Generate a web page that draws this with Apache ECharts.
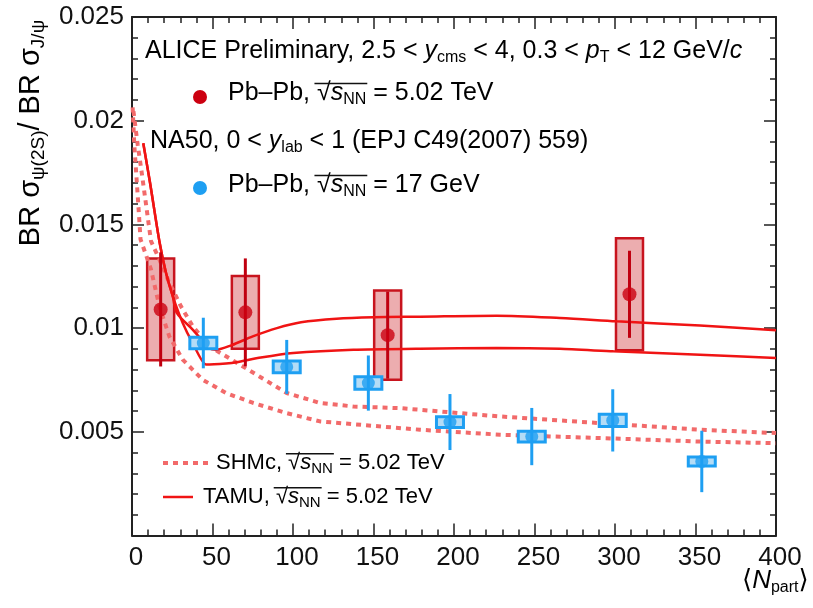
<!DOCTYPE html>
<html>
<head>
<meta charset="utf-8">
<script src="https://cdn.jsdelivr.net/npm/echarts@6/dist/echarts.min.js"></script>
<style>
  html, body { margin: 0; padding: 0; background: #fff; }
  #chart { width: 813px; height: 608px; }
</style>
</head>
<body>
<div id="chart"></div>
<script>
/**************** 数据 ****************/
// ALICE Pb-Pb 5.02 TeV
var aliceNpart = [17.8, 70.4, 158.8, 309.0];
var aliceRatio = [0.0109, 0.01076, 0.00966, 0.01163];
var aliceStat = [0.00275, 0.0026, 0.0021, 0.0021];
var aliceSyst = [0.00245, 0.00175, 0.00215, 0.0027];

// NA50 Pb-Pb 17 GeV
var na50Npart = [44.3, 96.1, 146.8, 197.5, 248.3, 298.6, 353.9];
var na50Ratio = [0.00928, 0.00813, 0.00735, 0.00547, 0.00477, 0.00555, 0.00357];
var na50Stat = [0.00122, 0.0013, 0.00133, 0.00135, 0.00138, 0.0015, 0.00148];
var na50Syst = [0.00028, 0.00028, 0.0003, 0.00026, 0.00026, 0.0003, 0.00022];

// TAMU band (solid)
var tamuHiX = [7.0, 11.2, 17.0, 21.1, 25.3, 27.8, 37.7, 48.0, 52.2, 62.0, 75.0, 90.0, 105.0, 127.0, 150.0, 179.0, 226.5, 265.8, 301.0, 352.8, 400];
var tamuHiY = [0.01891, 0.01701, 0.01419, 0.01267, 0.01154, 0.01073, 0.00993, 0.00904, 0.00896, 0.00918, 0.0096, 0.01, 0.01028, 0.01045, 0.01052, 0.01055, 0.0106, 0.01049, 0.01033, 0.01012, 0.0099];
var tamuLoX = [7.0, 11.2, 17.0, 21.1, 25.3, 31.5, 37.7, 46.0, 58.4, 65.0, 80.0, 100.2, 137.5, 178.9, 226.5, 265.8, 299.0, 352.8, 400];
var tamuLoY = [0.01891, 0.01701, 0.01419, 0.01267, 0.01154, 0.01025, 0.00928, 0.00824, 0.00829, 0.00835, 0.00858, 0.0088, 0.00896, 0.00901, 0.00904, 0.009, 0.00888, 0.00872, 0.00856];

// SHMc band (dotted)
var shmHiX = [0.9, 3.5, 5.6, 8.7, 11.8, 17.0, 23.2, 30.4, 37.7, 48.0, 58.4, 79.1, 96.1, 116.8, 137.5, 166.5, 228.6, 290.7, 352.8, 400];
var shmHiY = [0.02046, 0.01886, 0.01774, 0.01597, 0.01419, 0.01331, 0.01218, 0.01105, 0.01009, 0.00912, 0.00864, 0.00767, 0.00687, 0.00639, 0.00622, 0.00614, 0.00574, 0.00542, 0.0051, 0.00494];
var shmLoX = [0.4, 1.4, 3.5, 5.3, 11.8, 17.0, 23.2, 31.5, 43.9, 58.4, 75.3, 96.1, 116.8, 178.9, 228.6, 290.7, 352.8, 400];
var shmLoY = [0.02064, 0.01886, 0.01645, 0.01428, 0.01283, 0.01105, 0.0096, 0.00848, 0.00751, 0.00687, 0.00639, 0.0059, 0.0055, 0.0051, 0.00486, 0.0047, 0.00453, 0.00445];

var FONT = '"Liberation Sans", Arial, Helvetica, sans-serif';
var RED = '#cc0010';
var BLUE = '#1e9ff2';

function pairs(xs, ys) {
    return xs.map(function (x, i) { return [x, ys[i]]; });
}
function points(xs, ys, stat, syst) {
    return xs.map(function (x, i) { return [x, ys[i], stat[i], syst[i]]; });
}

// 系统误差方框
function boxRenderer(fill, stroke, lw) {
    return function (params, api) {
        var x = api.value(0), y = api.value(1), s = api.value(3);
        var p1 = api.coord([x, y + s]);
        var p2 = api.coord([x, y - s]);
        return {
            type: 'rect',
            shape: { x: p1[0] - 13.5, y: p1[1], width: 27, height: p2[1] - p1[1] },
            style: { fill: fill, stroke: stroke, lineWidth: lw }
        };
    };
}
// 统计误差竖线
function statRenderer(color) {
    return function (params, api) {
        var x = api.value(0), y = api.value(1), s = api.value(2);
        var p1 = api.coord([x, y + s]);
        var p2 = api.coord([x, y - s]);
        return {
            type: 'line',
            shape: { x1: p1[0], y1: p1[1], x2: p2[0], y2: p2[1] },
            style: { stroke: color, lineWidth: 3 }
        };
    };
}

function richSet(size, subSize, pad) {
    return {
        t: { fontSize: size, fontFamily: FONT, color: '#111' },
        i: { fontSize: size, fontFamily: FONT, fontStyle: 'italic', color: '#111' },
        s: { fontSize: subSize, fontFamily: FONT, color: '#111', padding: [pad, 0, 0, 0] }
    };
}
var richBase = richSet(25, 16, 14);
var richSmall = richSet(22, 15, 12);

// 根号上的横线（量一下文字宽度）
var measureCtx = document.createElement('canvas').getContext('2d');
function textW(str, font) {
    measureCtx.font = font;
    return measureCtx.measureText(str).width;
}
function sqrtBar(x, y, prefix, size, subSize) {
    var x0 = x + textW(prefix, size + 'px ' + FONT) - size * 0.1;
    var x1 = x + textW(prefix + '√', size + 'px ' + FONT) +
        textW('s', 'italic ' + size + 'px ' + FONT) +
        textW('NN', subSize + 'px ' + FONT) + 1;
    var yy = y + size * 0.22;
    return {
        type: 'line', shape: { x1: x0, y1: yy, x2: x1, y2: yy },
        style: { stroke: '#111', lineWidth: 1.5 }
    };
}

// 坐标轴：刻度朝内，带次刻度
function makeAxis(pos, min, max, interval, showLabel, labelExtra) {
    return {
        type: 'value',
        position: pos,
        min: min,
        max: max,
        interval: interval,
        axisLine: { show: true, onZero: false, lineStyle: { color: '#222', width: 2 } },
        axisTick: { show: true, inside: true, length: 12, lineStyle: { color: '#222', width: 1.5 } },
        minorTick: { show: true, splitNumber: 5, length: 6, lineStyle: { color: '#222', width: 1.5 } },
        splitLine: { show: false },
        minorSplitLine: { show: false },
        axisLabel: Object.assign({
            show: showLabel, fontSize: 26, fontFamily: FONT, color: '#111'
        }, labelExtra || {})
    };
}

var option = {
    animation: false,
    backgroundColor: '#fff',
    grid: { left: 132, right: 37, top: 17, bottom: 72.5 },
    xAxis: [
        makeAxis('bottom', 0, 400, 50, true, { margin: 9, padding: [0, 0, 0, 8] }),
        makeAxis('top', 0, 400, 50, false)
    ],
    yAxis: [
        makeAxis('left', 0, 0.025, 0.005, true, { margin: 8, showMinLabel: false }),
        makeAxis('right', 0, 0.025, 0.005, false)
    ],
    series: [
        {
            name: 'ALICE syst', type: 'custom', z: 1,
            renderItem: boxRenderer('rgba(205,40,45,0.38)', '#c8141e', 2.5),
            data: points(aliceNpart, aliceRatio, aliceStat, aliceSyst)
        },
        {
            name: 'SHMc hi', type: 'line', z: 2, symbol: 'none',
            lineStyle: { color: '#f26a6a', width: 4, type: [5, 5] },
            data: pairs(shmHiX, shmHiY)
        },
        {
            name: 'SHMc lo', type: 'line', z: 2, symbol: 'none',
            lineStyle: { color: '#f26a6a', width: 4, type: [5, 5] },
            data: pairs(shmLoX, shmLoY)
        },
        {
            name: 'TAMU hi', type: 'line', z: 3, symbol: 'none', smooth: 0.3,
            lineStyle: { color: '#f01414', width: 2.5 },
            data: pairs(tamuHiX, tamuHiY)
        },
        {
            name: 'TAMU lo', type: 'line', z: 3, symbol: 'none', smooth: 0.2,
            lineStyle: { color: '#f01414', width: 2.5 },
            data: pairs(tamuLoX, tamuLoY)
        },
        {
            name: 'NA50 syst', type: 'custom', z: 4,
            renderItem: boxRenderer('#b4dcf6', BLUE, 3),
            data: points(na50Npart, na50Ratio, na50Stat, na50Syst)
        },
        {
            name: 'NA50 stat', type: 'custom', z: 5,
            renderItem: statRenderer(BLUE),
            data: points(na50Npart, na50Ratio, na50Stat, na50Syst)
        },
        {
            name: 'NA50', type: 'scatter', z: 6, symbol: 'circle', symbolSize: 13,
            itemStyle: { color: BLUE },
            data: pairs(na50Npart, na50Ratio)
        },
        {
            name: 'ALICE stat', type: 'custom', z: 5,
            renderItem: statRenderer('#c00010'),
            data: points(aliceNpart, aliceRatio, aliceStat, aliceSyst)
        },
        {
            name: 'ALICE', type: 'scatter', z: 6, symbol: 'circle', symbolSize: 14,
            itemStyle: { color: RED },
            data: pairs(aliceNpart, aliceRatio)
        }
    ],
    graphic: [
        // y轴标题
        {
            type: 'text', x: 31, y: 133, rotation: Math.PI / 2,
            style: {
                text: '{t|BR σ}{s|ψ(2S)}{t|/ BR σ}{s|J/ψ}',
                align: 'center', verticalAlign: 'middle',
                rich: {
                    t: { fontSize: 29, fontFamily: FONT, color: '#111' },
                    s: { fontSize: 19, fontFamily: FONT, color: '#111', padding: [16, 0, 0, 0] }
                }
            }
        },
        // x轴标题
        {
            type: 'text', x: 742, y: 566,
            style: {
                text: '{t|⟨}{i|N}{s|part}{t|⟩}',
                rich: {
                    t: { fontSize: 26, fontFamily: '"DejaVu Sans", ' + FONT, color: '#111' },
                    i: { fontSize: 26, fontFamily: FONT, fontStyle: 'italic', color: '#111' },
                    s: { fontSize: 16, fontFamily: FONT, color: '#111', padding: [14, 0, 0, 0] }
                }
            }
        },
        // 图例文字
        {
            type: 'text', x: 145, y: 36,
            style: {
                text: '{t|ALICE Preliminary, 2.5 < }{i|y}{s|cms}{t| < 4, 0.3 < }{i|p}{s|T}{t| < 12 GeV/}{i|c}',
                rich: richBase
            }
        },
        { type: 'circle', shape: { cx: 200, cy: 97, r: 7 }, style: { fill: RED } },
        {
            type: 'text', x: 228, y: 78,
            style: { text: '{t|Pb–Pb, √}{i|s}{s|NN}{t| = 5.02 TeV}', rich: richBase }
        },
        sqrtBar(228, 78, 'Pb–Pb, ', 25, 16),
        {
            type: 'text', x: 150, y: 126,
            style: {
                text: '{t|NA50, 0 < }{i|y}{s|lab}{t| < 1 (EPJ C49(2007) 559)}',
                rich: richBase
            }
        },
        { type: 'circle', shape: { cx: 200, cy: 188, r: 7 }, style: { fill: BLUE } },
        {
            type: 'text', x: 228, y: 170,
            style: { text: '{t|Pb–Pb, √}{i|s}{s|NN}{t| = 17 GeV}', rich: richBase }
        },
        sqrtBar(228, 170, 'Pb–Pb, ', 25, 16),
        {
            type: 'line', shape: { x1: 163, y1: 463, x2: 210, y2: 463 },
            style: { stroke: '#f26a6a', lineWidth: 4, lineDash: [5, 5] }
        },
        {
            type: 'text', x: 216, y: 449,
            style: { text: '{t|SHMc, √}{i|s}{s|NN}{t| = 5.02 TeV}', rich: richSmall }
        },
        sqrtBar(216, 449, 'SHMc, ', 22, 15),
        {
            type: 'line', shape: { x1: 163, y1: 497, x2: 193, y2: 497 },
            style: { stroke: '#f01414', lineWidth: 2.5 }
        },
        {
            type: 'text', x: 203, y: 483,
            style: { text: '{t|TAMU, √}{i|s}{s|NN}{t| = 5.02 TeV}', rich: richSmall }
        },
        sqrtBar(203, 483, 'TAMU, ', 22, 15)
    ]
};

var myChart = echarts.init(document.getElementById('chart'));
myChart.setOption(option);
</script>
</body>
</html>
